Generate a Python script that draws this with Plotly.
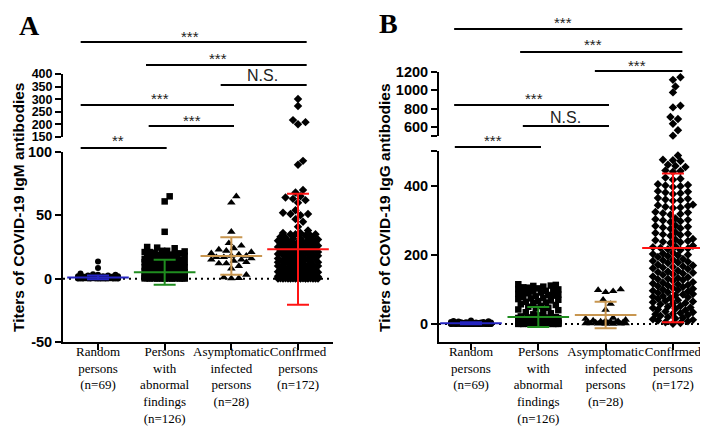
import plotly.graph_objects as go

# ---------------- data ----------------
categories = ["Random<br>persons<br>(n=69)",
              "Persons<br>with<br>abnormal<br>findings<br>(n=126)",
              "Asymptomatic<br>infected<br>persons<br>(n=28)",
              "Confirmed<br>persons<br>(n=172)"]

igm_random = [13.5, 8.5, 4, 3.5, 3, 3, 2.5, 2.5, 2, 2, 2, 2, 1.8, 1.8, 1.6, 1.5, 1.5, 1.5, 1.4, 1.3,
              1.2, 1.2, 1.1, 1.0, 1.0, 1.0, 1.0, 0.9, 0.9, 0.8, 0.8, 0.8, 0.7, 0.7, 0.7, 0.6, 0.6, 0.6,
              0.6, 0.5, 0.5, 0.5, 0.5, 0.5, 0.4, 0.4, 0.4, 0.4, 0.4, 0.3, 0.3, 0.3, 0.3, 0.3, 0.3, 0.2,
              0.2, 0.2, 0.2, 0.2, 0.2, 0.1, 0.1, 0.1, 0.1, 0.1, 0.1, 0.1, 0.1]
igm_abnormal = [65, 61, 37, 25, 24.5, 24, 22, 22, 21.5, 21, 21, 20.5, 20, 19.5, 19, 19, 18.5, 18, 18, 17.5,
                17, 17, 16.5, 16, 16, 15.5, 15, 15, 14.5, 14, 14, 14, 13.5, 13, 13, 12.5, 12, 12, 12, 11.5,
                11, 11, 11, 10.5, 10, 10, 10, 9.5, 9, 9, 9, 8.5, 8.5, 8, 8, 8, 7.5, 7.5, 7, 7,
                7, 6.5, 6.5, 6, 6, 6, 5.5, 5.5, 5, 5, 5, 4.5, 4.5, 4.5, 4, 4, 4, 3.5, 3.5, 3.5,
                3, 3, 3, 3, 2.5, 2.5, 2.5, 2.5, 2, 2, 2, 2, 2, 1.8, 1.6, 1.5, 1.5, 1.4, 1.2, 1.2,
                1.0, 1.0, 1.0, 0.9, 0.8, 0.8, 0.7, 0.6, 0.6, 0.5, 0.5, 0.5, 0.4, 0.4, 0.3, 0.3, 0.3, 0.2,
                0.2, 0.2, 0.1, 0.1, 0.1, 0.1, 0.1, 0.1]
igm_asymptomatic = [65, 60, 37, 28, 26, 24, 23, 22, 21, 20, 19, 18, 18, 17, 17, 16, 15, 15, 14, 13,
                    12, 12, 10, 8, 3, 1, 0.5, 0.2]
igm_confirmed = [301, 273, 217, 209, 201,
                 93, 90, 70, 68, 65, 64, 63, 62, 60, 54, 52, 51, 51, 50, 47, 45, 41, 38, 36, 36,
                 35, 35, 35, 34, 34, 33,
                 32.5, 32, 31.5, 31, 31, 30.5, 30, 30, 29.5, 29, 29, 28.5, 28, 28, 27.5, 27, 27, 26.5,
                 26, 26, 25.5, 25, 25, 24.5, 24, 24, 23.5, 23, 23, 22.5, 22, 22, 21.5, 21, 21, 20.5,
                 20, 20, 19.5, 19, 19, 18.5, 18, 18, 17.5, 17, 17, 16.5, 16, 16, 15.5, 15, 15, 14.5,
                 14, 14, 13.5, 13, 13, 12.5, 12, 12, 11.5, 11, 11, 10.5, 10, 10, 9.5, 9, 9, 8.5,
                 8, 8, 7.5, 7, 7, 6.5, 6, 6, 6, 5.5, 5, 5, 5, 4.5, 4, 4, 4, 3.5, 3.5, 3, 3, 3,
                 2.5, 2.5, 2, 2, 2, 1.8, 1.6, 1.5, 1.5, 1.4, 1.2, 1.2, 1.0, 1.0, 1.0, 0.9, 0.8, 0.8,
                 0.8, 0.7, 0.7, 0.6, 0.6, 0.6, 0.5, 0.5, 0.5, 0.5, 0.4, 0.4, 0.4, 0.3, 0.3, 0.3, 0.3,
                 0.2, 0.2, 0.2, 0.2, 0.2, 0.1, 0.1, 0.1, 0.1, 0.1, 0.1, 0.1]
igm_mean = [1.0, 5.0, 17.8, 23.2]
igm_sd = [1.5, 9.9, 14.8, 43.8]

igg_random = [10, 9, 8, 7, 6, 5.5, 5, 5, 4.5, 4, 4, 4, 3.5, 3.5, 3, 3, 3, 3, 2.5, 2.5,
              2.5, 2, 2, 2, 2, 2, 1.8, 1.6, 1.5, 1.5, 1.5, 1.4, 1.2, 1.2, 1.1, 1, 1, 1, 1, 0.9,
              0.8, 0.8, 0.8, 0.7, 0.7, 0.6, 0.6, 0.6, 0.5, 0.5, 0.5, 0.5, 0.4, 0.4, 0.4, 0.3, 0.3,
              0.3, 0.3, 0.2, 0.2, 0.2, 0.2, 0.1, 0.1, 0.1, 0.1, 0.1, 0.1]
igg_abnormal = [115, 113, 111, 110, 108, 106, 105, 103, 101, 100, 98, 96, 94, 93, 91, 89, 87, 85, 84, 82,
                80, 78, 76, 74, 72, 70, 68, 66, 64, 62, 60, 57, 55, 52, 50, 47, 45, 42, 40, 37,
                34, 31, 28, 25, 22,
                20, 19.5, 19, 18.5, 18, 17.5, 17, 16.5, 16, 15.5, 15, 14.5, 14, 13.5, 13, 12.5, 12,
                11.5, 11, 10.5, 10, 10, 9.5, 9, 9, 8.5, 8, 8, 7.5, 7, 7, 6.5, 6, 6, 5.5, 5, 5, 4.5,
                4.5, 4, 4, 3.5, 3.5, 3, 3, 3, 2.5, 2.5, 2.5, 2, 2, 2, 2, 1.8, 1.6, 1.5, 1.5, 1.4,
                1.2, 1.2, 1.0, 1.0, 1.0, 0.9, 0.8, 0.8, 0.7, 0.6, 0.6, 0.5, 0.5, 0.5, 0.4, 0.4, 0.3,
                0.3, 0.2, 0.2, 0.1, 0.1, 0.1]
igg_asymptomatic = [100, 98, 95, 92, 70, 58, 41, 18, 15, 12, 10, 9, 8, 7, 6, 5, 5, 4, 4, 3,
                    3, 2, 2, 1.5, 1, 1, 0.5, 0.2]
igg_confirmed = [1143, 1114, 1042, 977, 831, 813, 707, 685, 634, 562, 504,
                 487, 475, 473, 471, 460, 457, 454, 444, 442, 440, 423, 420, 417,
                 404, 402, 400, 398, 396, 384, 382, 380, 378, 376, 364, 362, 360, 358, 356,
                 345, 343, 341, 339, 337, 335, 324, 322, 320, 318, 316,
                 305, 303, 301, 299, 297, 295, 285, 283, 281, 279, 277, 275,
                 265, 263, 261, 259, 257, 255,
                 246, 244, 242, 240, 238, 236, 234, 226, 224, 222, 220, 218, 216, 214,
                 206, 204, 202, 200, 198, 196, 194, 188, 186, 184, 182, 180, 178, 176,
                 171, 169, 167, 165, 163, 161, 159, 154, 152, 150, 148, 146, 144, 142,
                 137, 135, 133, 131, 129, 127, 125,
                 121, 119, 117, 115, 113, 111, 109, 107, 104, 102, 100, 98, 96, 94, 92, 90,
                 87, 85, 83, 81, 79, 77, 75, 73,
                 69, 67, 65, 63, 61, 59, 57, 52, 50, 48, 46, 44, 42, 40,
                 36, 34, 32, 30, 28, 26, 24, 20, 18, 16, 14, 12, 10, 8, 5, 3, 1]
igg_mean = [2, 20, 26, 220]
igg_sd = [3, 29, 38, 215]

sig_labels_A = ["***", "***", "N.S.", "***", "***", "**"]
sig_labels_B = ["***", "***", "***", "***", "N.S.", "***"]

# ---------------- layout constants ----------------
W, H = 708, 426
FONT_SANS = "Liberation Sans, Arial, sans-serif"
FONT_SERIF = "Liberation Serif, Times New Roman, serif"
bar_colors = ["#2424c0", "#1f8c1f", "#c89650", "#ff1414"]
symbols = ["circle", "square", "triangle-up", "diamond"]
msizes = [6, 6.5, 7.5, 6.5]

panels = {
    "A": dict(xdom=[55 / W, 325 / W], xr=[-0.525, 3.525],
              lodom=[1 - 334 / H, 1 - 144 / H], lor=[-50, 100],
              updom=[1 - 129 / H, 1 - 66 / H], upr=[150, 400],
              lotick=[-50, 0, 50, 100], lotext=["-50", "0", "50", "100"],
              uptick=[150, 200, 250, 300, 350, 400],
              uptext=["150", "200", "250", "300", "350", "400"], upfont=12.5,
              xa="x", ylo="y", yup="y2",
              groups=[igm_random, igm_abnormal, igm_asymptomatic, igm_confirmed],
              mean=igm_mean, sd=igm_sd,
              title="Titers of COVID-19 IgM antibodies", title_x=10, title_y=200,
              letter_x=21, letter_y=17,
              lines=[(-0.26, 3.13, 34), (0.72, 3.13, 57), (1.84, 3.13, 77),
                     (-0.26, 2.04, 97), (0.76, 2.04, 118), (-0.26, 1.03, 140)],
              texts=[(1.38, 28), (1.80, 50), (2.46, 68), (0.93, 91), (1.41, 112), (0.30, 133)],
              labels=sig_labels_A),
    "B": dict(xdom=[431 / W, 704 / W], xr=[-0.475, 3.58],
              lodom=[1 - 334 / H, 1 - 143 / H], lor=[-52, 500],
              updom=[1 - 128 / H, 1 - 64 / H], upr=[500, 1200],
              lotick=[0, 200, 400, 500], lotext=["0", "200", "400", ""],
              uptick=[500, 600, 800, 1000, 1200],
              uptext=["", "600", "800", "1000", "1200"], upfont=14.5,
              xa="x2", ylo="y3", yup="y4",
              groups=[igg_random, igg_abnormal, igg_asymptomatic, igg_confirmed],
              mean=igg_mean, sd=igg_sd,
              title="Titers of COVID-19 IgG antibodies", title_x=376, title_y=200,
              letter_x=380, letter_y=16,
              lines=[(-0.25, 3.14, 21), (0.73, 3.14, 44), (1.84, 3.14, 63),
                     (-0.25, 2.05, 97), (0.77, 2.05, 118), (-0.24, 1.04, 139)],
              texts=[(1.37, 14), (1.81, 36), (2.47, 57), (0.94, 91), (1.40, 109), (0.33, 133)],
              labels=sig_labels_B),
}


def swarm(values, ypix, xppu, d=5.5, step=2.5, wmax=21.0):
    cands = [0.0]
    k = 1
    while k * step <= wmax:
        cands += [k * step, -k * step]
        k += 1
    order = sorted(range(len(values)), key=lambda i: values[i])
    placed = []
    offs = [0.0] * len(values)
    for i in order:
        y = ypix(values[i])
        near = [(px, py) for px, py in placed if abs(py - y) < d]
        best, best_score = 0.0, -1.0
        for c in cands:
            md = min((((c - px) ** 2 + (y - py) ** 2) ** 0.5 for px, py in near), default=1e9)
            if md >= d:
                best = c
                break
            if md > best_score + 1e-9:
                best_score, best = md, c
        placed.append((best, y))
        offs[i] = best / xppu
    return offs


fig = go.Figure()
layout = dict(width=W, height=H, margin=dict(l=0, r=0, t=0, b=0),
              paper_bgcolor="white", plot_bgcolor="white", showlegend=False,
              template="none", shapes=[], annotations=[])

axis_common = dict(showline=True, linewidth=2, linecolor="black", ticks="outside",
                   ticklen=6, tickwidth=2, tickcolor="black", showgrid=False,
                   zeroline=False, automargin=False)


def yfont(size):
    return dict(family=FONT_SANS, size=size, color="black", weight="bold")


for key, p in panels.items():
    xn = p["xa"].replace("x", "xaxis")
    yln = p["ylo"].replace("y", "yaxis")
    yun = p["yup"].replace("y", "yaxis")
    layout[xn] = dict(axis_common, domain=p["xdom"], range=p["xr"], anchor=p["ylo"],
                      tickvals=[0, 1, 2, 3], ticktext=categories, tickangle=0,
                      ticklabelstandoff=-10,
                      tickfont=dict(family=FONT_SERIF, size=13, color="black"))
    layout[yln] = dict(axis_common, domain=p["lodom"], range=p["lor"], anchor=p["xa"],
                       tickvals=p["lotick"], ticktext=p["lotext"], tickfont=yfont(14.5))
    layout[yun] = dict(axis_common, domain=p["updom"], range=p["upr"], anchor=p["xa"],
                       tickvals=p["uptick"], ticktext=p["uptext"], tickfont=yfont(p["upfont"]))

    xppu = (p["xdom"][1] - p["xdom"][0]) * W / (p["xr"][1] - p["xr"][0])
    klo = (p["lodom"][1] - p["lodom"][0]) * H / (p["lor"][1] - p["lor"][0])
    kup = (p["updom"][1] - p["updom"][0]) * H / (p["upr"][1] - p["upr"][0])
    lomax = p["lor"][1]

    def ypix(v, p=p, klo=klo, kup=kup, lomax=lomax):
        if v <= lomax:
            return p["lodom"][0] * H + (v - p["lor"][0]) * klo
        return p["updom"][0] * H + (v - p["upr"][0]) * kup

    # zero dotted line
    layout["shapes"].append(dict(type="line", xref=p["xa"], yref=p["ylo"],
                                 x0=p["xr"][0], x1=p["xr"][1], y0=0, y1=0, layer="below",
                                 line=dict(color="black", width=2, dash="2px,4px")))

    for gi, vals in enumerate(p["groups"]):
        offs = swarm(vals, ypix, xppu, d=msizes[gi] - 0.5)
        lo_x = [gi + o for v, o in zip(vals, offs) if v <= lomax]
        lo_y = [v for v in vals if v <= lomax]
        up_x = [gi + o for v, o in zip(vals, offs) if v > lomax]
        up_y = [v for v in vals if v > lomax]
        mk = dict(symbol=symbols[gi], size=msizes[gi], color="black", line=dict(width=0))
        fig.add_trace(go.Scatter(x=lo_x, y=lo_y, mode="markers", marker=mk, cliponaxis=False,
                                 xaxis=p["xa"], yaxis=p["ylo"], hoverinfo="y"))
        if up_y:
            fig.add_trace(go.Scatter(x=up_x, y=up_y, mode="markers", marker=mk, cliponaxis=False,
                                     xaxis=p["xa"], yaxis=p["yup"], hoverinfo="y"))
    for gi in range(4):
        c = bar_colors[gi]
        fig.add_trace(go.Scatter(
            x=[gi], y=[p["mean"][gi]], mode="markers", cliponaxis=False,
            marker=dict(symbol="line-ew", size=44, color=c, line=dict(width=2, color=c)),
            error_y=dict(type="data", array=[p["sd"][gi]], visible=True, color=c,
                         thickness=2, width=11),
            xaxis=p["xa"], yaxis=p["ylo"], hoverinfo="y"))

    # significance brackets
    for (x0, x1, ly), (tx, ty), lab in zip(p["lines"], p["texts"], p["labels"]):
        layout["shapes"].append(dict(type="line", xref=p["xa"], yref="paper",
                                     x0=x0, x1=x1, y0=1 - ly / H, y1=1 - ly / H,
                                     line=dict(color="black", width=2)))
        fsize = 16 if lab == "N.S." else 15
        layout["annotations"].append(dict(text=lab, xref=p["xa"], yref="paper", x=tx,
                                          y=1 - ty / H, showarrow=False, xanchor="center",
                                          yanchor="middle",
                                          font=dict(family=FONT_SANS, size=fsize, color="#222")))
    layout["annotations"].append(dict(text=p["title"], xref="paper", yref="paper",
                                      x=p["title_x"] / W, y=1 - p["title_y"] / H, textangle=-90,
                                      showarrow=False, xanchor="center", yanchor="middle",
                                      font=dict(family=FONT_SANS, size=15.5, color="black",
                                                weight="bold")))
    layout["annotations"].append(dict(text=key, xref="paper", yref="paper",
                                      x=p["letter_x"] / W, y=1 - p["letter_y"] / H,
                                      showarrow=False, xanchor="center", yanchor="middle",
                                      font=dict(family=FONT_SERIF, size=28, color="black",
                                                weight="bold")))

fig.update_layout(**layout)
fig.write_html("out.html")
